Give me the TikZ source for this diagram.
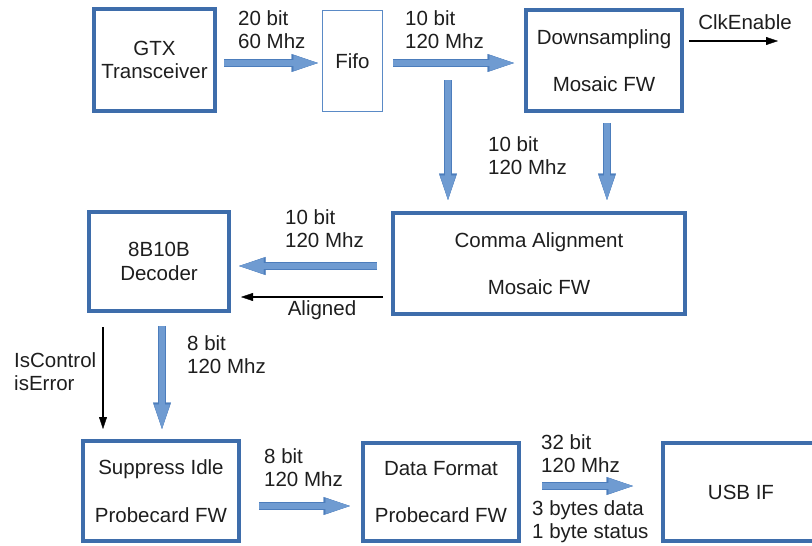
\documentclass[tikz,border=0pt]{standalone}
\usepackage{fontspec}
\setmainfont{Liberation Sans}
\usetikzlibrary{arrows.meta}

\definecolor{boxblue}{HTML}{3E6DAB}
\definecolor{fifoblue}{HTML}{5A8AC6}
\definecolor{arrowfill}{HTML}{6F9BD1}
\definecolor{arrowedge}{HTML}{4C7DBC}
\definecolor{ink}{HTML}{1E1E1E}

% two left-aligned lines whose first baseline is the node's base
\newcommand{\twoline}[2]{\begin{tabular}[t]{@{}l@{}}#1\\#2\end{tabular}}

\begin{document}
\begin{tikzpicture}[x=1pt,y=-1pt,
  every node/.style={font=\fontsize{20.5}{23.5}\selectfont, text=ink},
  block/.style={draw=boxblue, line width=4pt, align=center, inner sep=0pt},
  lbl/.style={inner sep=0pt, anchor=base west},
  blockarrow/.style={draw=arrowfill, line width=6pt,
    -{Triangle[width=15.5pt,length=24.5pt,line width=0.4pt]},
    preaction={draw=arrowedge, line width=7.6pt,
      -{Triangle[width=18pt,length=26.5pt,line width=0.4pt]}}},
  sigarrow/.style={draw=black, line width=1.1pt,
    -{Triangle[width=8pt,length=12pt,line width=0.4pt]}}]

\useasboundingbox (0,0) rectangle (812,546);

% processing blocks
\node[block, minimum width=121pt, minimum height=102pt] (gtx) at (154.5,60) {GTX\\Transceiver};
\node[block, draw=fifoblue, line width=1pt, minimum width=60pt, minimum height=101pt] (fifo) at (352.5,61) {Fifo};
\node[block, minimum width=156pt, minimum height=101pt] (down) at (604,60.5) {Downsampling\\[23.5pt]Mosaic FW};
\node[block, minimum width=292pt, minimum height=101pt] (comma) at (539,263.5) {Comma Alignment\\[23.5pt]Mosaic FW};
\node[block, minimum width=140pt, minimum height=99pt] (dec) at (159,261.5) {8B10B\\Decoder};
\node[block, minimum width=156pt, minimum height=100pt] (supp) at (161,491) {Suppress Idle\\[24pt]Probecard FW};
\node[block, minimum width=156pt, minimum height=98pt] (fmt) at (441,492) {Data Format\\[23.5pt]Probecard FW};
\node[block, minimum width=156pt, minimum height=98pt] (usb) at (741,492) {USB IF};

% bus and signal labels
\node[lbl] (r1) at (238,25) {\twoline{20 bit}{60 Mhz}};
\node[lbl] (r2) at (405,25) {\twoline{10 bit}{120 Mhz}};
\node[lbl] (r3) at (488,151) {\twoline{10 bit}{120 Mhz}};
\node[lbl] (r4) at (285,224) {\twoline{10 bit}{120 Mhz}};
\node[lbl, anchor=base] (aligned) at (322,315) {Aligned};
\node[lbl] (ctrl) at (14,367) {\twoline{IsControl}{isError}};
\node[lbl] (r5) at (187,350) {\twoline{8 bit}{120 Mhz}};
\node[lbl] (r6) at (264,463) {\twoline{8 bit}{120 Mhz}};
\node[lbl] (r7) at (541,449) {\twoline{32 bit}{120 Mhz}};
\node[lbl] (payload) at (532,515) {\twoline{3 bytes data}{1 byte status}};
\node[lbl, anchor=base] (clk) at (745,29) {ClkEnable};

% free ends
\coordinate (split) at (448,80);
\coordinate (clkend) at (778,41);

% data path
\draw[blockarrow, shorten <=7pt, shorten >=4pt]
  ([yshift=-3pt]gtx.east) -- ([yshift=-2pt]fifo.west);
\draw[blockarrow, shorten <=10pt, shorten >=10pt]
  ([yshift=-2pt]fifo.east) -- ([yshift=-2.5pt]down.west);
\draw[blockarrow, shorten >=11pt] (split) -- (split |- comma.north);
\draw[blockarrow, shorten <=10pt, shorten >=11pt]
  ([xshift=3pt]down.south) -- ([xshift=3pt]down.south |- comma.north);
\draw[blockarrow, shorten <=14pt, shorten >=8pt]
  ([yshift=-2.5pt]comma.west) -- ([yshift=-2.5pt]comma.west -| dec.east);
\draw[blockarrow, shorten <=13pt, shorten >=10pt]
  ([xshift=3pt]dec.south) -- ([xshift=3pt]dec.south |- supp.north);
\draw[blockarrow, shorten <=18pt, shorten >=11pt]
  ([yshift=-15pt]supp.east) -- ([yshift=-15pt]supp.east -| fmt.west);
\draw[blockarrow, shorten <=21pt, shorten >=28pt]
  ([yshift=6pt]fmt.east) -- ([yshift=6pt]fmt.east -| usb.west);

% control signals
\draw[sigarrow, shorten <=5pt] ([yshift=19.5pt]down.east) -- (clkend);
\draw[sigarrow, shorten <=8pt, shorten >=10pt]
  ([yshift=-33.5pt]comma.west) -- ([yshift=-33.5pt]comma.west -| dec.east);
\draw[sigarrow, shorten <=14pt, shorten >=10pt]
  ([xshift=-56pt]dec.south) -- ([xshift=-56pt]dec.south |- supp.north);

\end{tikzpicture}
\end{document}
